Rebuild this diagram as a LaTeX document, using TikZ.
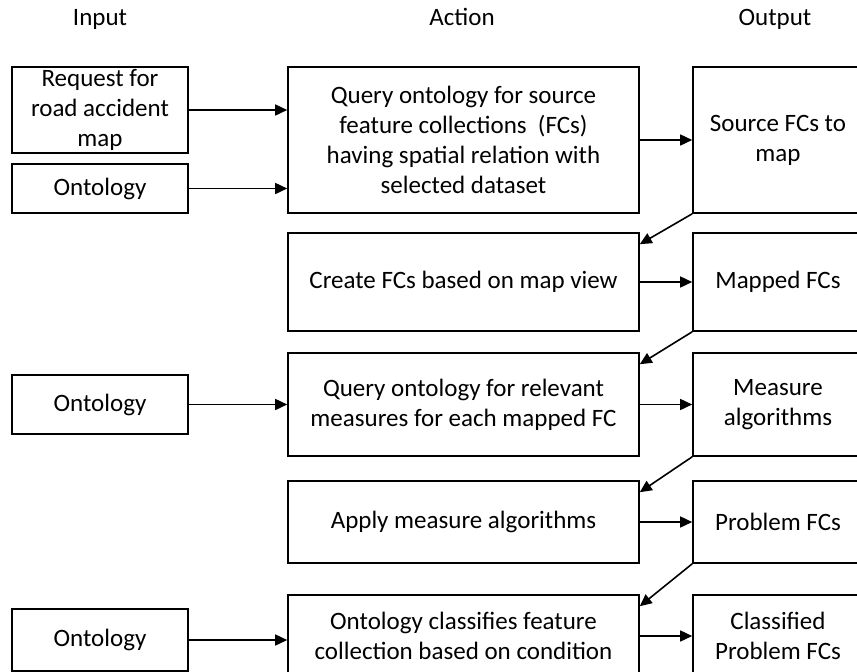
\documentclass[tikz,border=0pt]{standalone}
\usepackage{fontspec}
\setmainfont{Carlito}
\usetikzlibrary{arrows.meta,positioning}

\tikzset{
  box/.style={draw, line width=1.6pt, align=center, inner sep=0pt,
    font=\fontsize{25}{30}\selectfont},
  head/.style={anchor=base, font=\fontsize{25}{30}\selectfont},
  flow/.style={-{Triangle[length=12pt,width=11pt]}, line width=1.6pt}
}

\begin{document}
\begin{tikzpicture}[x=1pt,y=-1pt]
    \clip (0,0) rectangle (857,672);

    % column headings
    \node[head] (hin) at (100,25) {Input};
    \node[head] (hact) at (462,25) {Action};
    \node[head] (hout) at (775,25) {Output};

    % input column
    \node[box, minimum width=176pt, minimum height=86pt] (req) at (100,110) {Request for\\road accident\\map};
    \node[box, minimum width=176pt, minimum height=49pt] (ontA) at (100,188.5) {Ontology};
    \node[box, minimum width=176pt, minimum height=59pt] (ontB) at (100,404.5) {Ontology};
    \node[box, minimum width=176pt, minimum height=62pt] (ontC) at (100,640) {Ontology};

    % action column
    \node[box, minimum width=351pt, minimum height=146pt] (qry) at (463.5,140) {Query ontology for source\\feature collections~~(FCs)\\having spatial relation with\\selected dataset};
    \node[box, minimum width=351pt, minimum height=98pt] (mkfc) at (463.5,282) {Create FCs based on map view};
    \node[box, minimum width=351pt, minimum height=103pt] (qmeas) at (463.5,404.5) {Query ontology for relevant\\measures for each mapped FC};
    \node[box, minimum width=351pt, minimum height=82pt] (apply) at (463.5,522) {Apply measure algorithms};
    \node[box, minimum width=351pt, minimum height=82pt] (classify) at (463.5,636) {Ontology classifies feature\\collection based on condition};

    % output column
    \node[box, minimum width=170pt, minimum height=146pt] (srcfc) at (778,140) {Source FCs to\\map};
    \node[box, minimum width=170pt, minimum height=98pt] (mapfc) at (778,282) {Mapped FCs};
    \node[box, minimum width=170pt, minimum height=103pt] (measalg) at (778,404.5) {Measure\\algorithms};
    \node[box, minimum width=170pt, minimum height=82pt] (probfc) at (778,522) {Problem FCs};
    \node[box, minimum width=170pt, minimum height=82pt] (clsfc) at (778,636) {Classified\\Problem FCs};

    % inputs into actions
    \draw[flow] (req) -- (req -| qry.west);
    \draw[flow] (ontA) -- (ontA -| qry.west);
    \draw[flow] (ontB) -- (ontB -| qmeas.west);
    \draw[flow] (ontC) -- (ontC -| classify.west);

    % actions into outputs
    \draw[flow] (qry) -- (srcfc);
    \draw[flow] (mkfc) -- (mapfc);
    \draw[flow] (qmeas) -- (measalg);
    \draw[flow] (apply) -- (probfc);
    \draw[flow] (classify) -- (clsfc);

    % outputs back to next action
    \draw[flow] (srcfc.south west) -- ([yshift=-12pt]mkfc.north east);
    \draw[flow] (mapfc.south west) -- ([yshift=-12pt]qmeas.north east);
    \draw[flow] (measalg.south west) -- ([yshift=-12pt]apply.north east);
    \draw[flow] (probfc.south west) -- ([yshift=-12pt]classify.north east);
\end{tikzpicture}
\end{document}
